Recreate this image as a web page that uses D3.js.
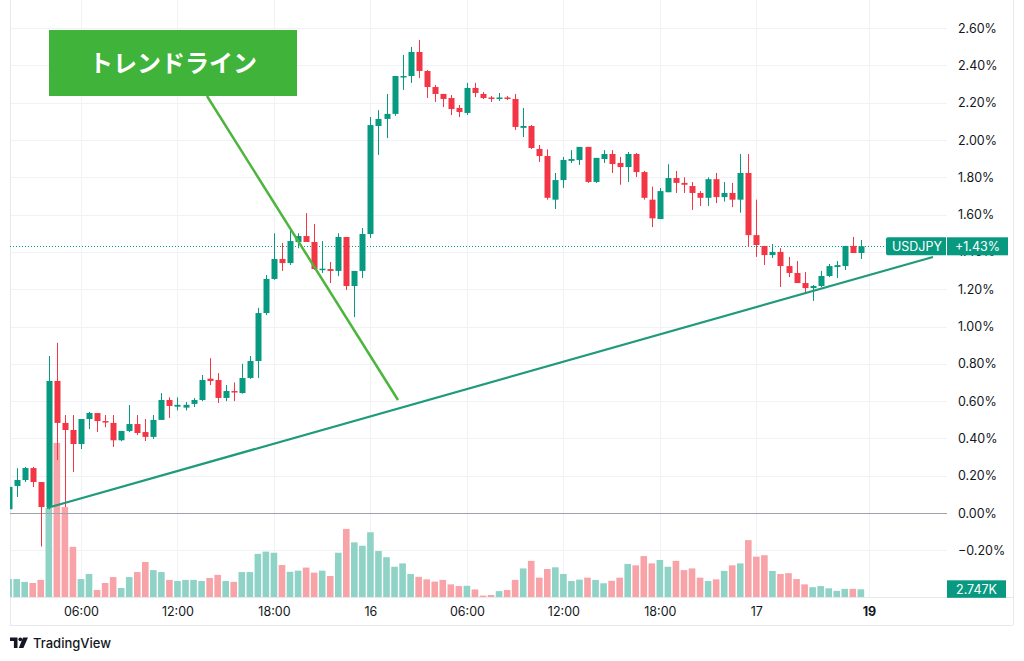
<!DOCTYPE html>
<html><head><meta charset="utf-8">
<script src="https://cdn.jsdelivr.net/npm/d3@7"></script>
<style>
html,body{margin:0;padding:0;background:#fff;}
svg{display:block;font-family:Inter,"Noto Sans",sans-serif;}
</style></head><body>
<svg id="c" width="1024" height="661"></svg>
<script>
// ---- data (30-minute bars, % change) ----
const firstBar = 3; // bar index of first value (index 0 = day 15 00:00)
const opens  = [0.02,0.145,0.177,0.241,0.166,0.032,0.708,0.483,0.445,0.37,0.504,0.536,0.493,0.483,0.39,0.44,0.477,0.434,0.408,0.499,0.606,0.57,0.565,0.585,0.606,0.72,0.713,0.617,0.654,0.643,0.724,0.815,1.072,1.255,1.362,1.34,1.453,1.485,1.453,1.303,1.308,1.298,1.48,1.217,1.298,1.496,2.075,2.113,2.14,2.338,2.343,2.472,2.37,2.284,2.247,2.225,2.172,2.145,2.279,2.247,2.228,2.22,2.228,2.22,2.065,2.075,1.952,1.914,1.68,1.785,1.888,1.893,1.963,1.775,1.898,1.925,1.877,1.855,1.925,1.828,1.68,1.576,1.72,1.796,1.77,1.753,1.716,1.69,1.79,1.694,1.716,1.68,1.823,1.49,1.432,1.383,1.4,1.324,1.287,1.233,1.206,1.217,1.271,1.319,1.324,1.432,1.394];
const highs  = [0.15,0.24,0.247,0.247,0.166,0.842,0.912,0.525,0.525,0.504,0.542,0.536,0.525,0.525,0.44,0.579,0.525,0.504,0.525,0.643,0.62,0.62,0.595,0.616,0.74,0.83,0.75,0.686,0.7,0.8,0.842,1.1,1.276,1.5,1.448,1.528,1.5,1.608,1.55,1.458,1.346,1.5,1.48,1.298,1.528,2.123,2.16,2.247,2.343,2.456,2.499,2.536,2.375,2.295,2.247,2.241,2.188,2.306,2.306,2.257,2.236,2.252,2.236,2.247,2.172,2.08,1.973,1.95,1.823,1.909,1.946,1.963,1.963,1.904,1.946,1.946,1.909,1.936,1.93,1.834,1.75,1.743,1.87,1.834,1.8,1.775,1.726,1.8,1.823,1.775,1.77,1.925,1.925,1.68,1.432,1.442,1.42,1.373,1.351,1.292,1.222,1.298,1.335,1.351,1.432,1.48,1.464];
const lows   = [0.0,0.086,0.166,0.139,-0.18,0.02,0.284,0.032,0.22,0.343,0.45,0.434,0.46,0.354,0.385,0.434,0.418,0.386,0.397,0.499,0.51,0.55,0.55,0.568,0.6,0.686,0.59,0.6,0.6,0.64,0.72,0.724,1.061,1.25,1.298,1.33,1.42,1.453,1.303,1.287,1.233,1.27,1.196,1.05,1.26,1.475,1.92,2.01,2.13,2.268,2.306,2.332,2.225,2.204,2.177,2.134,2.123,2.134,2.23,2.22,2.204,2.21,2.214,2.054,2.016,1.952,1.882,1.68,1.63,1.743,1.877,1.866,1.77,1.77,1.877,1.823,1.76,1.775,1.802,1.68,1.533,1.576,1.72,1.716,1.716,1.625,1.646,1.646,1.662,1.67,1.64,1.61,1.426,1.373,1.33,1.367,1.212,1.265,1.233,1.18,1.137,1.212,1.265,1.26,1.303,1.394,1.362];
const closes = [0.14,0.177,0.241,0.166,0.032,0.708,0.483,0.445,0.37,0.504,0.536,0.493,0.488,0.39,0.44,0.477,0.429,0.408,0.499,0.606,0.574,0.58,0.58,0.606,0.713,0.708,0.617,0.654,0.649,0.724,0.815,1.072,1.255,1.362,1.34,1.458,1.485,1.453,1.308,1.31,1.298,1.48,1.217,1.298,1.496,2.08,2.113,2.14,2.343,2.343,2.472,2.37,2.284,2.247,2.22,2.166,2.15,2.279,2.252,2.225,2.22,2.228,2.22,2.07,2.075,1.957,1.914,1.69,1.785,1.893,1.898,1.963,1.775,1.904,1.925,1.871,1.855,1.925,1.828,1.69,1.58,1.726,1.796,1.77,1.76,1.716,1.69,1.79,1.694,1.716,1.68,1.823,1.49,1.437,1.383,1.4,1.324,1.287,1.233,1.206,1.217,1.271,1.324,1.329,1.432,1.394,1.43];
const volumes = [6.4,6.4,5.4,5.0,6.1,31.8,55.0,32.1,17.9,6.4,8.2,2.5,5.0,7.1,3.2,7.1,8.9,12.5,9.6,8.9,6.1,5.7,6.1,6.1,5.7,6.8,7.9,5.7,5.4,8.9,8.9,15.4,16.2,15.8,11.4,9.0,9.4,10.5,8.7,9.4,7.5,15.8,24.3,19.5,18.3,23.1,16.4,14.2,10.8,12.0,8.2,7.2,6.3,5.5,6.1,4.5,3.9,4.0,2.7,0.5,0.7,2.1,2.5,6.1,10.2,12.9,6.9,10.0,10.6,8.2,5.7,6.2,6.9,6.1,4.9,5.8,6.9,11.8,11.3,14.6,12.0,13.2,10.8,12.9,9.6,10.2,6.9,5.7,6.3,9.3,11.3,12.0,20.3,14.4,14.9,9.3,8.2,8.5,6.4,4.5,3.5,3.9,3.1,2.2,2.9,2.9,2.747];
const timeTickIndex  = [12,24,36,48,60,72,84,96,110];
const timeTickLabels = ["06:00","12:00","18:00","16","06:00","12:00","18:00","17","19"];
const priceTicks = [-0.2,0,0.2,0.4,0.6,0.8,1.0,1.2,1.4,1.6,1.8,2.0,2.2,2.4,2.6];
const symbol = "USDJPY";
const lastChange = "+1.43%";
const lastVolume = "2.747K";
const annotationText = "トレンドライン";
// trend lines in (bar index, %) units
const downLine = [[27.67,2.236],[51.43,0.606]];
const upLine   = [[7.77,0.027],[117.97,1.373]];

// ---- layout ----
const paneL=10, paneR=947, paneB=597, axisB=625, outerR=1013;
const UP="#089981", DN="#f23645", UPV="#8fd2c6", DNV="#f7a3a8";
const bars = opens.map((o,k)=>({i:firstBar+k,o,h:highs[k],l:lows[k],c:closes[k],v:volumes[k]}));

const svg=d3.select("#c");
const x=d3.scaleLinear().domain([0,120]).range([-15.5,-15.5+120*8.04]);
const y=d3.scaleLinear().domain([0,2.6]).range([513,28.1]);
const yv=d3.scaleLinear().domain([0,55]).range([paneB,paneB-154.1]);

svg.append("defs").append("clipPath").attr("id","pane")
  .append("rect").attr("x",paneL).attr("y",0).attr("width",paneR-paneL).attr("height",paneB);

// grid
const grid=svg.append("g").attr("stroke","#f0f2f5").attr("stroke-width",1);
grid.selectAll("line.h").data(priceTicks).join("line")
  .attr("x1",paneL).attr("x2",paneR).attr("y1",d=>Math.round(y(d))+0.5).attr("y2",d=>Math.round(y(d))+0.5);
grid.selectAll("line.v").data(timeTickIndex).join("line")
  .attr("x1",d=>Math.round(x(d))+0.5).attr("x2",d=>Math.round(x(d))+0.5).attr("y1",0).attr("y2",paneB);

// borders
const bd=svg.append("g").attr("stroke","#e6e8ee").attr("stroke-width",1);
bd.append("line").attr("x1",paneL+0.5).attr("x2",paneL+0.5).attr("y1",0).attr("y2",axisB);
bd.append("line").attr("x1",outerR+0.5).attr("x2",outerR+0.5).attr("y1",0).attr("y2",axisB);
bd.append("line").attr("x1",paneL).attr("x2",outerR).attr("y1",paneB+0.5).attr("y2",paneB+0.5);
bd.append("line").attr("x1",paneL).attr("x2",outerR).attr("y1",axisB+0.5).attr("y2",axisB+0.5);

const pane=svg.append("g").attr("clip-path","url(#pane)");
// volume
pane.selectAll("rect.vol").data(bars).join("rect")
  .attr("x",d=>x(d.i)-3.3).attr("width",6.6)
  .attr("y",d=>yv(d.v)).attr("height",d=>paneB-yv(d.v))
  .attr("fill",d=>d.c>=d.o?UPV:DNV);
// zero line
pane.append("line").attr("x1",paneL).attr("x2",paneR).attr("y1",Math.round(y(0))+0.5).attr("y2",Math.round(y(0))+0.5)
  .attr("stroke","#9ea2ab").attr("stroke-width",1);
// last price dotted line
pane.append("line").attr("x1",paneL).attr("x2",888).attr("y1",Math.round(y(1.43))+0.5).attr("y2",Math.round(y(1.43))+0.5)
  .attr("stroke",UP).attr("stroke-width",1).attr("stroke-dasharray","1,2");
// candles
const cg=pane.selectAll("g.c").data(bars).join("g");
cg.append("line").attr("x1",d=>Math.round(x(d.i))+0.5).attr("x2",d=>Math.round(x(d.i))+0.5)
  .attr("y1",d=>y(d.h)).attr("y2",d=>y(d.l)).attr("stroke",d=>d.c>=d.o?UP:DN).attr("stroke-width",1);
cg.append("rect").attr("x",d=>Math.round(x(d.i))-2.5).attr("width",6)
  .attr("y",d=>y(Math.max(d.o,d.c))).attr("height",d=>Math.max(1.5,Math.abs(y(d.o)-y(d.c))))
  .attr("fill",d=>d.c>=d.o?UP:DN);

// trend lines
const ln=d3.line().x(d=>x(d[0])).y(d=>y(d[1]));
svg.append("path").attr("d",ln(upLine)).attr("stroke","#1f9a7b").attr("stroke-width",2.2).attr("fill","none");
svg.append("path").attr("d",ln(downLine)).attr("stroke","#4cb53c").attr("stroke-width",2.5).attr("fill","none");
// annotation box
svg.append("rect").attr("x",49).attr("y",30).attr("width",248).attr("height",66).attr("fill","#3fb33a");
svg.append("text").attr("x",173).attr("y",72).attr("text-anchor","middle")
  .attr("font-family","'Noto Sans CJK JP',sans-serif").attr("font-weight",700).attr("font-size",24)
  .attr("fill","#fff").text(annotationText);

// price axis
const pa=svg.append("g").attr("transform",`translate(${paneR},0)`)
  .call(d3.axisRight(y).tickValues(priceTicks).tickSize(0).tickPadding(11).tickFormat(d=>d3.format(".2f")(d)+"%"));
pa.select(".domain").remove();
pa.selectAll("text").attr("font-size",12.5).attr("fill","#131722").attr("font-family","Inter,sans-serif");

// time axis
const ta=svg.append("g").attr("transform",`translate(0,${paneB})`)
  .call(d3.axisBottom(x).tickValues(timeTickIndex).tickSize(0).tickPadding(10).tickFormat((d,k)=>timeTickLabels[k]));
ta.select(".domain").remove();
ta.selectAll("text").attr("font-size",12.5).attr("fill","#131722").attr("font-family","Inter,sans-serif")
  .attr("font-weight",(d,k)=>timeTickLabels[k]==="19"?700:400);

// last price labels
const ly=y(1.43);
svg.append("path").attr("d",`M888,${ly-9}h58v18h-58q-2,0 -2,-2v-14q0,-2 2,-2z`).attr("fill",UP);
svg.append("rect").attr("x",947).attr("y",ly-9).attr("width",61).attr("height",18).attr("fill",UP);
svg.append("text").attr("x",917).attr("y",ly+4.5).attr("text-anchor","middle").attr("font-size",12.5).attr("fill","#fff").text(symbol);
svg.append("text").attr("x",977.5).attr("y",ly+4.5).attr("text-anchor","middle").attr("font-size",12.5).attr("fill","#fff").text(lastChange);
// volume label
const vy=yv(volumes[volumes.length-1]);
svg.append("rect").attr("x",947).attr("y",vy-9).attr("width",59).attr("height",17.5).attr("fill",UP);
svg.append("text").attr("x",976.5).attr("y",vy+4.5).attr("text-anchor","middle").attr("font-size",12.5).attr("fill","#fff").text(lastVolume);

// TradingView logo
const lg=svg.append("g").attr("fill","#131722");
lg.append("path").attr("d","M10,637.5h7.5v10.5h-3.6v-7h-3.9z");
lg.append("circle").attr("cx",20.3).attr("cy",639.3).attr("r",1.9);
lg.append("path").attr("d","M23,637.5h5l-4.6,10.5h-4.6z");
svg.append("text").attr("x",33).attr("y",648).attr("font-size",13).attr("font-weight",500).attr("fill","#131722").text("TradingView");
</script>
</body></html>
